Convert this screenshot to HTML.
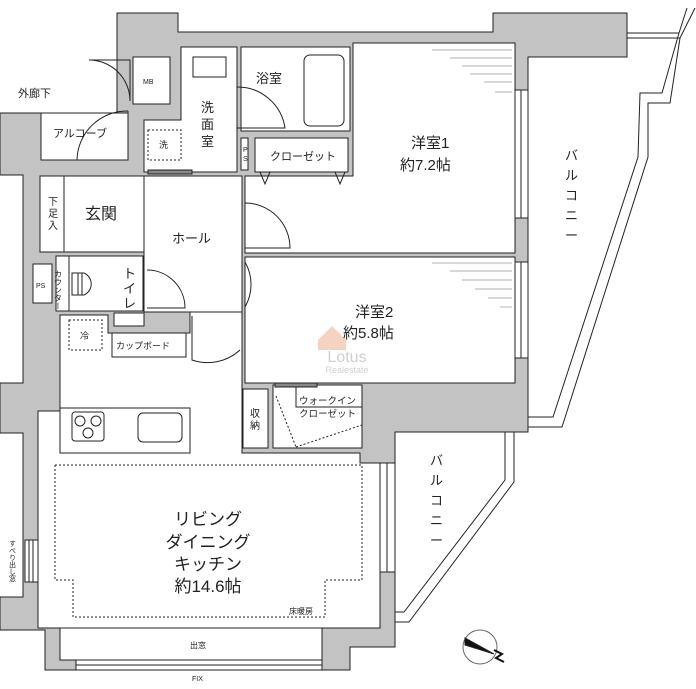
<!DOCTYPE html>
<html><head><meta charset="utf-8"><style>
html,body{margin:0;padding:0;background:#fff;}
svg{display:block}
text{font-family:"Liberation Sans","Noto Sans CJK JP",sans-serif;fill:#222}
</style></head><body>
<svg width="696" height="689" viewBox="0 0 696 689" xmlns="http://www.w3.org/2000/svg">
<g stroke="#222" stroke-width="1">
<!-- walls footprint -->
<polygon fill="#c3c3c3" points="117,13 178,13 178,32 493,32 493,13 627,13 627,57 528,57 528,432 395,432 395,647 350,647 350,670 45,670 45,630 0,630 0,597 23,597 23,433 0,433 0,383 23,383 23,175 0,175 0,113 117,113"/>
<!-- rooms -->
<g fill="#fff">
<rect x="133" y="57" width="37" height="47"/>
<polygon points="181,47 237,47 237,172 144,172 144,120 181,120"/>
<rect x="241" y="47" width="109" height="84"/>
<rect x="241" y="138" width="7" height="32"/>
<rect x="255" y="138" width="93" height="34"/>
<polygon points="353,43 515,43 515,253 245,253 245,176 353,176"/>
<rect x="245" y="257" width="270" height="126"/>
<rect x="144" y="176" width="98" height="136"/>
<rect x="40" y="176" width="104" height="76"/>
<rect x="40" y="176" width="24" height="76"/>
<rect x="41" y="113" width="87" height="47"/>
<rect x="56" y="256" width="87" height="55"/>
<rect x="56" y="256" width="13" height="55"/>
<rect x="33" y="264" width="19" height="39"/>
<polygon points="60,315 108,315 108,333 190,333 190,312 242,312 242,453 360,453 360,463 380,463 380,628 38,628 38,411 60,411"/>
<rect x="112" y="333" width="74" height="24"/>
<rect x="114" y="313" width="30" height="13"/>
<rect x="243" y="389" width="25" height="59"/>
<rect x="273" y="385" width="89" height="63"/>
<rect x="60" y="628" width="262" height="32"/>
<rect x="60" y="408" width="130" height="45"/>
</g>
<!-- fixtures -->
<g fill="none">
<rect x="193" y="57" width="33" height="20"/>
<rect x="304" y="55" width="40" height="71" rx="6"/>
<rect x="148" y="130" width="33" height="30" stroke-dasharray="2,2"/>
<rect x="69" y="320" width="33" height="30" stroke-dasharray="2,2"/>
<rect x="72" y="412" width="32" height="29" rx="3"/>
<circle cx="80" cy="421" r="5"/><circle cx="96" cy="421" r="5"/><circle cx="88" cy="433" r="5"/>
<rect x="138" y="413" width="44" height="29" rx="5"/>
<path d="M72,273 h12 a12,12 0 0 1 0,22 h-12 z"/>
<line x1="78" y1="273" x2="78" y2="295"/><line x1="82" y1="273" x2="82" y2="295"/>
<polyline stroke-dasharray="2,2" points="55,465 362,465 362,580 325,580 325,617 73,617 73,580 55,580 55,465"/>
<line x1="276" y1="396" x2="296" y2="447" stroke-dasharray="2,2"/>
<line x1="296" y1="447" x2="362" y2="425" stroke-dasharray="2,2"/>
<rect x="296" y="385" width="66" height="22"/>
<!-- doors -->
<path d="M130,60 V101 A41,41 0 0 0 89,60 Z"/>
<path d="M128,111 V160 M77,160 A50,50 0 0 1 128,111"/>
<path d="M237,87 A48,48 0 0 1 285,128 H237"/>
<path d="M245,203 A45,45 0 0 1 290,248 H245"/>
<path d="M245,262 A45,45 0 0 1 245,307"/>
<path d="M147,270 A38,38 0 0 1 185,308 H147"/>
<path d="M192,316 V360 A48,48 0 0 0 240,350"/>
<path d="M260,172 l5,12 l5,-12 M335,172 l5,12 l5,-12"/>
<!-- windows -->
<rect x="515" y="90" width="13" height="128" fill="#fff"/><line x1="521" y1="90" x2="521" y2="218"/>
<rect x="515" y="262" width="13" height="96" fill="#fff"/><line x1="521" y1="262" x2="521" y2="358"/>
<rect x="380" y="463" width="15" height="109" fill="#fff"/><line x1="387" y1="463" x2="387" y2="572"/>
<rect x="25" y="540" width="13" height="42" fill="#fff"/><line x1="29" y1="540" x2="29" y2="582"/><line x1="33" y1="540" x2="33" y2="582"/>
<rect x="76" y="660" width="246" height="10" fill="#fff"/><line x1="76" y1="665" x2="322" y2="665"/>
<rect x="148" y="170" width="44" height="4" fill="#888"/>
<rect x="275" y="383" width="42" height="4" fill="#888"/>
<!-- balconies -->
<polyline points="627,33 679,33 687,8"/>
<polyline points="627,38 680,38 695,8"/>
<polyline points="679,33 662,93 640,93 638,157 553,417 528,417"/>
<polyline points="680,38 670,103 648,103 648,157 562,427 528,427"/>
<polyline points="505,432 505,480 404,612 395,612"/>
<polyline points="514,432 514,482 409,622 395,622"/>
<circle cx="480" cy="647" r="17" stroke="#666"/>
</g>
<polygon points="465,638 494,654 465,645" fill="#111"/>
<path d="M494,650 l8,4 l-6,4 l8,4" fill="none" stroke="#111" stroke-width="2"/>
<g stroke="#999" stroke-width="0.7">
<line x1="432" y1="50" x2="512" y2="50"/><line x1="450" y1="58" x2="512" y2="58"/><line x1="462" y1="66" x2="512" y2="66"/><line x1="470" y1="74" x2="512" y2="74"/><line x1="484" y1="82" x2="512" y2="82"/><line x1="495" y1="92" x2="512" y2="92"/>
<line x1="432" y1="263" x2="512" y2="263"/><line x1="450" y1="271" x2="512" y2="271"/><line x1="462" y1="280" x2="512" y2="280"/><line x1="475" y1="289" x2="512" y2="289"/><line x1="488" y1="298" x2="512" y2="298"/><line x1="500" y1="307" x2="512" y2="307"/>
</g>
</g>
<!-- watermark -->
<g opacity="0.55">
<path d="M318,340 l14,-14 l14,14 v10 h-28z" fill="#f0b090"/>
<text x="347" y="362" font-size="16" text-anchor="middle" style="fill:#aaa">Lotus</text>
<text x="347" y="373" font-size="9" text-anchor="middle" style="fill:#aaa">Realestate</text>
</g>
<!-- labels -->
<g font-size="11">
<text x="18" y="97">外廊下</text>
<text x="143" y="84" font-size="7">MB</text>
<text x="256" y="83" font-size="13">浴室</text>
<text x="201" y="112" font-size="13">洗</text><text x="201" y="129" font-size="13">面</text><text x="201" y="146" font-size="13">室</text>
<text x="159" y="148" font-size="9">洗</text>
<text x="53" y="137">アルコーブ</text>
<text x="243" y="152" font-size="7">P</text><text x="243" y="161" font-size="7">S</text>
<text x="270" y="160">クローゼット</text>
<text x="411" y="148" font-size="15">洋室1</text>
<text x="400" y="170" font-size="15">約7.2帖</text>
<text x="85" y="219" font-size="16">玄関</text>
<text x="48" y="205" font-size="10">下</text><text x="48" y="217" font-size="10">足</text><text x="48" y="229" font-size="10">入</text>
<text x="172" y="243" font-size="13">ホール</text>
<text x="58" y="270" font-size="8" writing-mode="tb">カウンター</text>
<text x="123" y="278" font-size="13">ト</text><text x="123" y="293" font-size="13">イ</text><text x="123" y="308" font-size="13">レ</text>
<text x="36" y="288" font-size="7">PS</text>
<text x="355" y="317" font-size="15">洋室2</text>
<text x="343" y="338" font-size="15">約5.8帖</text>
<text x="80" y="339" font-size="9">冷</text>
<text x="116" y="349" font-size="9">カップボード</text>
<text x="250" y="417" font-size="10">収</text><text x="250" y="429" font-size="10">納</text>
<text x="299" y="404" font-size="9.5">ウォークイン</text>
<text x="299" y="417" font-size="9.5">クローゼット</text>
<text x="565" y="160" font-size="13">バ</text><text x="565" y="180" font-size="13">ル</text><text x="565" y="200" font-size="13">コ</text><text x="565" y="220" font-size="13">ニ</text><text x="565" y="240" font-size="13">ー</text>
<text x="430" y="465" font-size="13">バ</text><text x="430" y="485" font-size="13">ル</text><text x="430" y="505" font-size="13">コ</text><text x="430" y="525" font-size="13">ニ</text><text x="430" y="545" font-size="13">ー</text>
<g font-size="17" text-anchor="middle">
<text x="208" y="525">リビング</text>
<text x="208" y="548">ダイニング</text>
<text x="208" y="570">キッチン</text>
<text x="208" y="592">約14.6帖</text>
</g>
<text x="289" y="614" font-size="8">床暖房</text>
<text x="190" y="648" font-size="8">出窓</text>
<text x="192" y="681" font-size="7">FIX</text>
<text x="12" y="540" font-size="7" writing-mode="tb">すべり出し窓</text>
</g>
</svg>
</body></html>
